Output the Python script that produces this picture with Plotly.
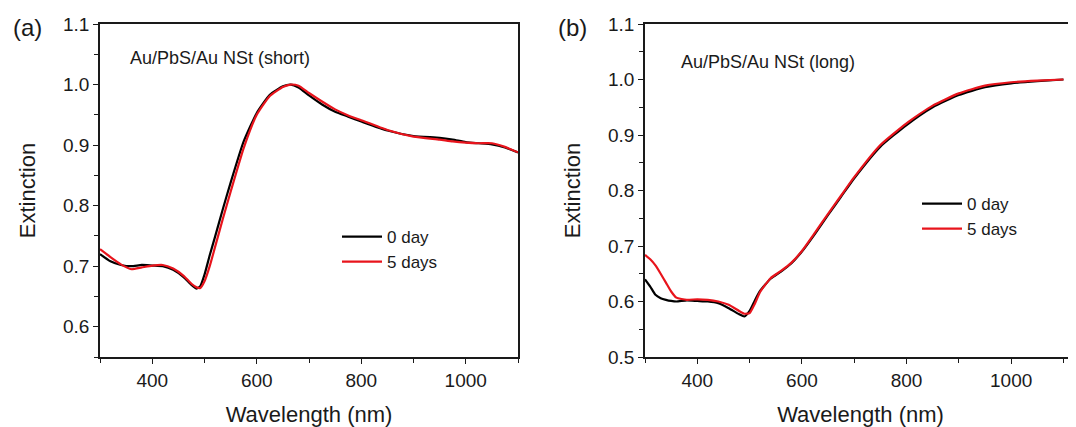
import plotly.graph_objects as go

# panel (a): Au/PbS/Au NSt (short)
wl_a = [300, 320, 340, 360, 380, 400, 420, 440, 460, 475, 485, 492, 500, 510, 520, 535, 550, 575,
        600, 625, 650, 665, 680, 700, 725, 750, 775, 800, 850, 900, 950, 975, 1000, 1025, 1050, 1075, 1100]
ext_a_0day = [0.720, 0.708, 0.702, 0.700, 0.702, 0.701, 0.700, 0.694, 0.682, 0.669, 0.663, 0.667, 0.686, 0.718,
              0.748, 0.794, 0.838, 0.906, 0.953, 0.983, 0.997, 1.000, 0.995, 0.982, 0.967, 0.955, 0.947, 0.939,
              0.924, 0.915, 0.912, 0.909, 0.905, 0.903, 0.901, 0.896, 0.888]
ext_a_5days = [0.728, 0.715, 0.703, 0.695, 0.698, 0.701, 0.702, 0.696, 0.684, 0.671, 0.665, 0.664, 0.675, 0.700,
               0.731, 0.778, 0.823, 0.895, 0.950, 0.981, 0.996, 1.000, 0.998, 0.986, 0.972, 0.959, 0.949, 0.941,
               0.925, 0.914, 0.909, 0.906, 0.904, 0.903, 0.903, 0.897, 0.888]

# panel (b): Au/PbS/Au NSt (long)
wl_b = [300, 310, 320, 330, 340, 350, 360, 380, 400, 420, 440, 460, 480, 490, 500, 510, 520, 540, 560, 580,
        600, 625, 650, 675, 700, 750, 800, 850, 900, 950, 1000, 1050, 1100]
ext_b_0day = [0.640, 0.627, 0.612, 0.606, 0.603, 0.601, 0.600, 0.602, 0.601, 0.600, 0.597, 0.588, 0.577, 0.573,
              0.583, 0.602, 0.619, 0.641, 0.654, 0.669, 0.690, 0.722, 0.756, 0.789, 0.822, 0.879, 0.918, 0.950,
              0.972, 0.986, 0.993, 0.997, 1.000]
ext_b_5days = [0.684, 0.676, 0.665, 0.650, 0.634, 0.618, 0.607, 0.603, 0.604, 0.603, 0.600, 0.594, 0.583, 0.578,
               0.579, 0.596, 0.617, 0.642, 0.655, 0.670, 0.691, 0.724, 0.758, 0.791, 0.824, 0.882, 0.921, 0.953,
               0.975, 0.989, 0.995, 0.998, 1.000]

FONT = "Liberation Sans, Arial, sans-serif"
INK = "#1a1a1a"
RED = "#e8141c"

fig = go.Figure()

line_style = dict(width=2.2, shape="spline", smoothing=0.5)
fig.add_trace(go.Scatter(x=wl_a, y=ext_a_0day, mode="lines", name="0 day", legend="legend",
                         line=dict(line_style, color="black")))
fig.add_trace(go.Scatter(x=wl_a, y=ext_a_5days, mode="lines", name="5 days", legend="legend",
                         line=dict(line_style, color=RED)))
fig.add_trace(go.Scatter(x=wl_b, y=ext_b_0day, mode="lines", name="0 day", legend="legend2",
                         xaxis="x2", yaxis="y2", line=dict(line_style, color="black")))
fig.add_trace(go.Scatter(x=wl_b, y=ext_b_5days, mode="lines", name="5 days", legend="legend2",
                         xaxis="x2", yaxis="y2", line=dict(line_style, color=RED)))

# page body has an 8px margin, so the figure is 8px smaller and all positions are shifted by 8
W, H = 1068, 419
y_dom = [1 - 349 / H, 1 - 16 / H]

xcommon = dict(ticks="outside", ticklen=5, tickwidth=1.2, tickcolor=INK, showline=True,
               linecolor=INK, linewidth=1.5, showgrid=False, zeroline=False, automargin=False,
               tickvals=[400, 600, 800, 1000], tickfont=dict(size=19, color=INK),
               minor=dict(ticks="outside", ticklen=4, tickcolor=INK, dtick=100, tick0=300, showgrid=False),
               title=dict(text="Wavelength (nm)", font=dict(size=22, color=INK), standoff=18))
ycommon = dict(ticks="outside", ticklen=5, tickwidth=1.2, tickcolor=INK, showline=True,
               linecolor=INK, linewidth=1.5, showgrid=False, zeroline=False, automargin=False,
               dtick=0.1, tickformat=".1f", tickfont=dict(size=19, color=INK),
               minor=dict(ticks="outside", ticklen=4, tickcolor=INK, dtick=0.05, showgrid=False),
               title=dict(text="Extinction", font=dict(size=22, color=INK), standoff=21))

fig.update_layout(
    template="none",
    width=W, height=H,
    margin=dict(l=0, r=0, t=0, b=0, autoexpand=False),
    paper_bgcolor="white", plot_bgcolor="white",
    font=dict(family=FONT, color=INK),
    xaxis=dict(xcommon, domain=[92 / W, 510 / W], range=[300, 1100], mirror=True, anchor="y"),
    yaxis=dict(ycommon, domain=y_dom, range=[0.55, 1.1], tick0=0.6, mirror=True, anchor="x"),
    xaxis2=dict(xcommon, domain=[637 / W, 1.0], range=[300, 1124], mirror=True, anchor="y2"),
    yaxis2=dict(ycommon, domain=y_dom, range=[0.5, 1.1], tick0=0.5, mirror=False, anchor="x2"),
    legend=dict(x=329 / W, y=1 - 211 / H, xanchor="left", yanchor="top", bgcolor="rgba(0,0,0,0)",
                font=dict(size=17, color=INK), tracegroupgap=0, itemwidth=40),
    legend2=dict(x=909 / W, y=1 - 178 / H, xanchor="left", yanchor="top", bgcolor="rgba(0,0,0,0)",
                 font=dict(size=17, color=INK), tracegroupgap=0, itemwidth=40),
    annotations=[
        dict(text="(a)", x=19 / W, y=1 - 20 / H, xref="paper", yref="paper", showarrow=False,
             xanchor="center", yanchor="middle", font=dict(size=24, color=INK)),
        dict(text="(b)", x=564 / W, y=1 - 20 / H, xref="paper", yref="paper", showarrow=False,
             xanchor="center", yanchor="middle", font=dict(size=24, color=INK)),
        dict(text="Au/PbS/Au NSt (short)", x=120 / W, y=1 - 50 / H, xref="paper", yref="paper",
             xanchor="left", yanchor="middle", showarrow=False, font=dict(size=18, color=INK)),
        dict(text="Au/PbS/Au NSt (long)", x=671 / W, y=1 - 54 / H, xref="paper", yref="paper",
             xanchor="left", yanchor="middle", showarrow=False, font=dict(size=18, color=INK)),
    ],
    showlegend=True,
)

fig.write_html("out.html")
